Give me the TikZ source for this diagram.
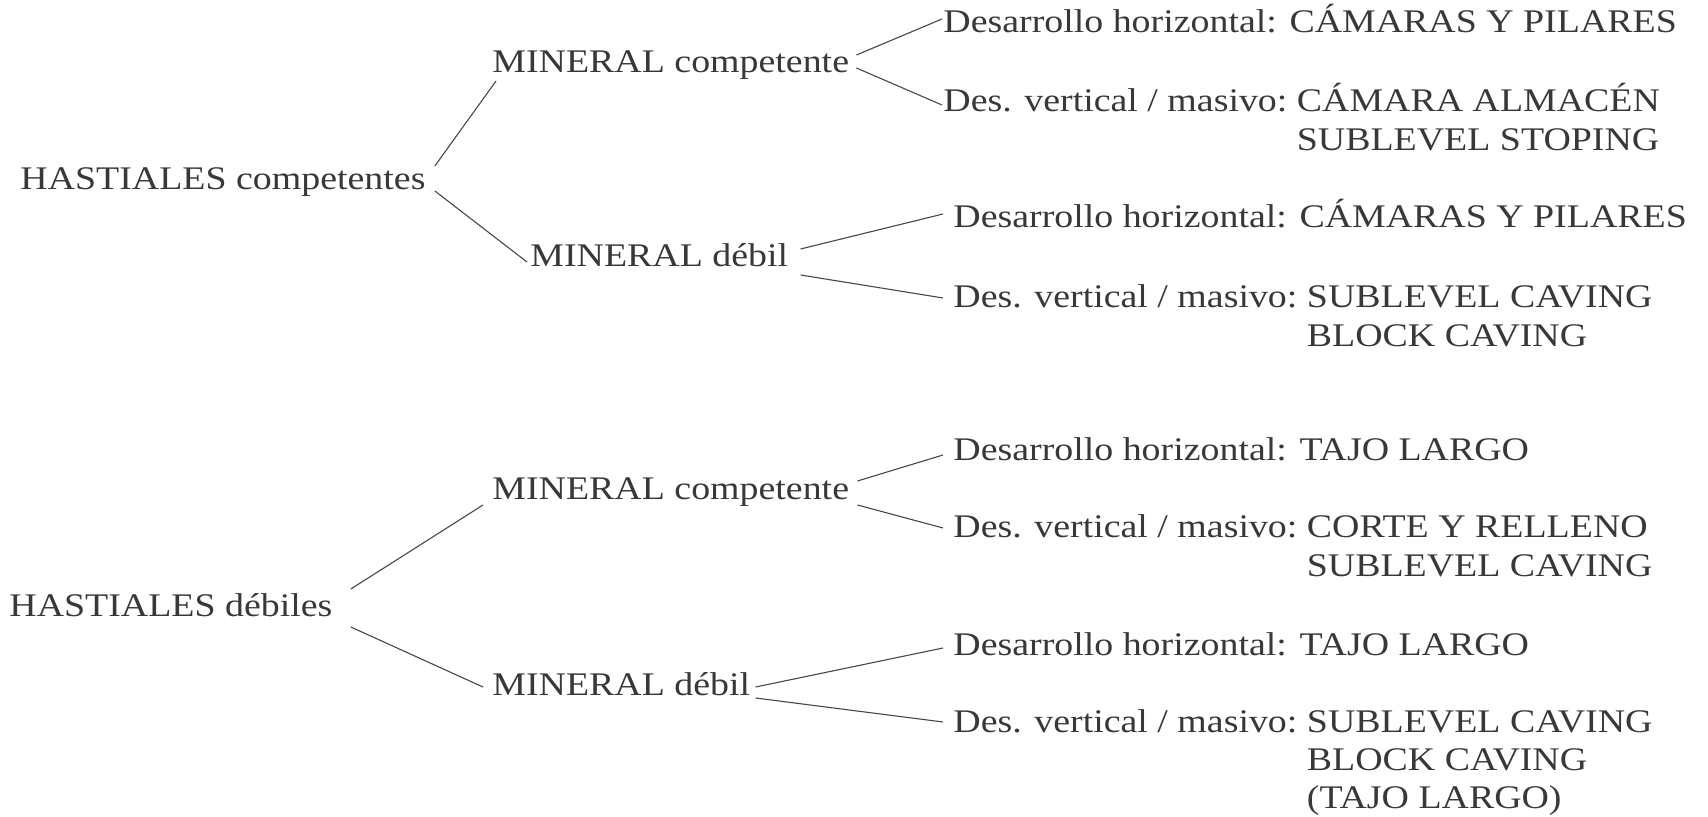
\documentclass[tikz,border=0pt]{standalone}
\usepackage{fontspec}
\setmainfont{Liberation Serif}[FakeStretch=1.148]
\usetikzlibrary{calc}
\begin{document}
\begin{tikzpicture}[x=0.5pt,y=-0.5pt,
  lbl/.style={anchor=base west,inner sep=0pt,text=black!78,
    font=\fontsize{16.5}{19.25}\selectfont},
  link/.style={draw=black!72,line width=0.55pt}]
\useasboundingbox (0,0) rectangle (1708,817);
\newcommand{\opts}[2]{\begin{tabular}[t]{@{}l@{}l@{}}#1~ & #2\end{tabular}}

% competent walls
\node[lbl] (hc)  at (20,190)  {HASTIALES competentes};
\node[lbl] (mc1) at (492,73)  {MINERAL competente};
\node[lbl] (md1) at (530,267) {MINERAL débil};
\node[lbl] (dh1) at (943,33)  {Desarrollo horizontal: CÁMARAS Y PILARES};
\node[lbl] (dv1) at (943,112) {\opts{Des. vertical / masivo:}{CÁMARA ALMACÉN\\ & SUBLEVEL STOPING}};
\node[lbl] (dh2) at (953,228) {Desarrollo horizontal: CÁMARAS Y PILARES};
\node[lbl] (dv2) at (953,308) {\opts{Des. vertical / masivo:}{SUBLEVEL CAVING\\ & BLOCK CAVING}};

% weak walls
\node[lbl] (hd)  at (9,617)   {HASTIALES débiles};
\node[lbl] (mc2) at (492,500) {MINERAL competente};
\node[lbl] (md2) at (492,695) {MINERAL débil};
\node[lbl] (dh3) at (953,461) {Desarrollo horizontal: TAJO LARGO};
\node[lbl] (dv3) at (953,538) {\opts{Des. vertical / masivo:}{CORTE Y RELLENO\\ & SUBLEVEL CAVING}};
\node[lbl] (dh4) at (953,655) {Desarrollo horizontal: TAJO LARGO};
\node[lbl] (dv4) at (953,732) {\opts{Des. vertical / masivo:}{SUBLEVEL CAVING\\ & BLOCK CAVING\\ & (TAJO LARGO)}};

% branches
\draw[link] ($(hc.base east)+(9,-24)$) -- ($(mc1.base west)+(4,8)$);
\draw[link] ($(hc.base east)+(9,1)$)   -- ($(md1.base west)+(-3,-5)$);
\draw[link] ($(mc1.base east)+(7,-18)$) -- ($(dh1.base west)+(-1,-14)$);
\draw[link] ($(mc1.base east)+(7,-5)$)  -- ($(dv1.base west)+(-1,-7)$);
\draw[link] ($(md1.base east)+(12,-18)$) -- ($(dh2.base west)+(-10,-14)$);
\draw[link] ($(md1.base east)+(12,8)$)   -- ($(dv2.base west)+(-10,-10)$);

\draw[link] ($(hd.base east)+(18,-28)$) -- ($(mc2.base west)+(-9,5)$);
\draw[link] ($(hd.base east)+(18,10)$)  -- ($(md2.base west)+(-9,-8)$);
\draw[link] ($(mc2.base east)+(8,-19)$) -- ($(dh3.base west)+(-10,-6)$);
\draw[link] ($(mc2.base east)+(8,5)$)   -- ($(dv3.base west)+(-10,-10)$);
\draw[link] ($(md2.base east)+(5,-8)$)  -- ($(dh4.base west)+(-10,-7)$);
\draw[link] ($(md2.base east)+(5,3)$)   -- ($(dv4.base west)+(-10,-10)$);
\end{tikzpicture}
\end{document}
